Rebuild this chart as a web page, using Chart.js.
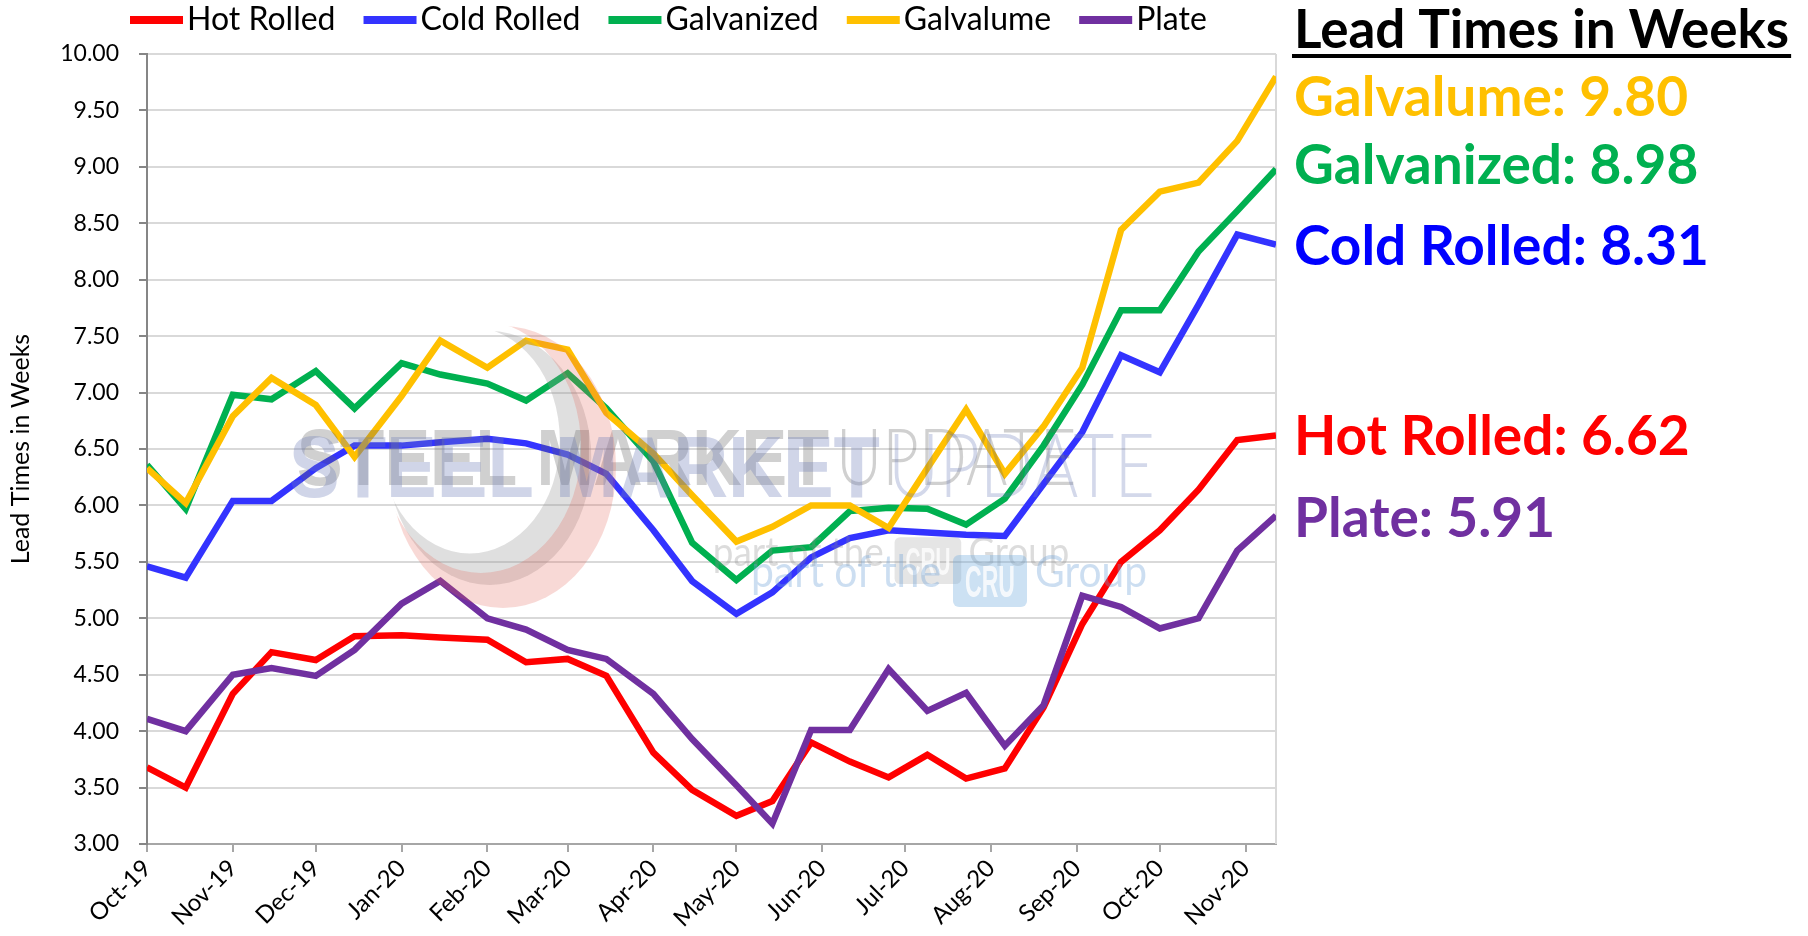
<!DOCTYPE html>
<html>
<head>
<meta charset="utf-8">
<script src="https://cdn.jsdelivr.net/npm/chart.js@4.4.1/dist/chart.umd.min.js"></script>
<style>
  html, body { margin: 0; padding: 0; background: #fff; }
  #wrap { width: 1808px; height: 936px; }
</style>
</head>
<body>
<div id="wrap"><canvas id="lead-chart" width="1808" height="936"></canvas></div>
<script>
// survey dates: twice a month, then every other week from May 2020
const surveyDates = [
  '2019-10-01', '2019-10-15', '2019-11-01', '2019-11-15', '2019-12-01', '2019-12-15',
  '2020-01-01', '2020-01-15', '2020-02-01', '2020-02-15', '2020-03-01', '2020-03-15',
  '2020-04-01', '2020-04-15', '2020-05-01', '2020-05-14', '2020-05-28', '2020-06-11',
  '2020-06-25', '2020-07-09', '2020-07-23', '2020-08-06', '2020-08-20', '2020-09-03',
  '2020-09-17', '2020-10-01', '2020-10-15', '2020-10-29', '2020-11-12'
];

const hotRolled  = [3.68, 3.50, 4.33, 4.70, 4.63, 4.84, 4.85, 4.83, 4.81, 4.61, 4.64, 4.49, 3.81, 3.48, 3.25, 3.38, 3.90, 3.73, 3.59, 3.79, 3.58, 3.67, 4.21, 4.95, 5.50, 5.78, 6.14, 6.58, 6.62];
const coldRolled = [5.46, 5.36, 6.04, 6.04, 6.33, 6.53, 6.53, 6.56, 6.59, 6.55, 6.45, 6.28, 5.78, 5.33, 5.04, 5.23, 5.54, 5.71, 5.78, 5.76, 5.74, 5.73, 6.19, 6.65, 7.33, 7.18, 7.78, 8.40, 8.31];
const galvanized = [6.36, 5.97, 6.98, 6.94, 7.19, 6.86, 7.26, 7.16, 7.08, 6.93, 7.17, 6.86, 6.39, 5.67, 5.34, 5.60, 5.63, 5.95, 5.98, 5.97, 5.83, 6.06, 6.53, 7.07, 7.73, 7.73, 8.25, 8.61, 8.98];
const galvalume  = [6.33, 6.02, 6.79, 7.13, 6.89, 6.43, 6.97, 7.46, 7.22, 7.46, 7.38, 6.82, 6.46, 6.09, 5.68, 5.81, 6.00, 6.00, 5.80, 6.33, 6.85, 6.28, 6.70, 7.22, 8.44, 8.78, 8.86, 9.23, 9.80];
const plate      = [4.11, 4.00, 4.50, 4.56, 4.49, 4.72, 5.13, 5.33, 5.00, 4.90, 4.72, 4.64, 4.33, 3.93, 3.52, 3.18, 4.01, 4.01, 4.55, 4.18, 4.34, 3.87, 4.23, 5.20, 5.10, 4.91, 5.00, 5.60, 5.91];

const seriesNames  = ['Hot Rolled', 'Cold Rolled', 'Galvanized', 'Galvalume', 'Plate'];
const seriesValues = [hotRolled, coldRolled, galvanized, galvalume, plate];
const lineColors   = ['#ff0000', '#3333ff', '#00b050', '#ffc000', '#7030a0'];
const textColors   = ['#ff0000', '#0000ff', '#00b050', '#ffc000', '#7030a0'];

const monthStarts = [
  '2019-10-01', '2019-11-01', '2019-12-01', '2020-01-01', '2020-02-01', '2020-03-01', '2020-04-01',
  '2020-05-01', '2020-06-01', '2020-07-01', '2020-08-01', '2020-09-01', '2020-10-01', '2020-11-01'
];
const monthLabels = ['Oct-19', 'Nov-19', 'Dec-19', 'Jan-20', 'Feb-20', 'Mar-20', 'Apr-20',
                     'May-20', 'Jun-20', 'Jul-20', 'Aug-20', 'Sep-20', 'Oct-20', 'Nov-20'];

// right hand summary, top to bottom
const summaryOrder = ['Galvalume', 'Galvanized', 'Cold Rolled', 'Hot Rolled', 'Plate'];
const summaryBaselines = [116, 184, 265, 455, 537];

const dayZero = Date.UTC(2019, 9, 1);
function dayOf(s) {
  const [y, m, d] = s.split('-').map(Number);
  return (Date.UTC(y, m - 1, d) - dayZero) / 86400000;
}
const surveyDays = surveyDates.map(dayOf);
const monthDays = monthStarts.map(dayOf);

Chart.defaults.font.family = 'Lato';
Chart.defaults.color = '#000';

const datasets = seriesNames.map((name, i) => ({
  label: name,
  data: seriesValues[i].map((v, j) => ({ x: surveyDays[j], y: v })),
  borderColor: lineColors[i],
  backgroundColor: lineColors[i],
  borderWidth: 6.5,
  pointRadius: 0,
  tension: 0,
  order: seriesNames.length - i
}));

// squeeze a string into a given width
function fitText(ctx, text, x, y, width, font) {
  ctx.font = font;
  const w = ctx.measureText(text).width;
  ctx.save();
  ctx.translate(x, y);
  ctx.scale(width / w, 1);
  ctx.fillText(text, 0, 0);
  ctx.restore();
}

function drawLogo(ctx, ox, oy, k, c) {
  ctx.save();
  ctx.translate(ox, oy);
  ctx.scale(k, k);

  // crescent
  ctx.save();
  ctx.beginPath();
  ctx.rect(-400, -400, 2000, 1000);
  ctx.ellipse(192, -50, 100, 126, 0, 0, Math.PI * 2, true);
  ctx.clip('evenodd');
  ctx.beginPath();
  ctx.ellipse(214, -30, 113, 141, 0, 0, Math.PI * 2);
  ctx.fillStyle = c.ring;
  ctx.fill();
  ctx.restore();

  ctx.textBaseline = 'alphabetic';
  ctx.fillStyle = c.heavy;
  fitText(ctx, 'STEEL MARKET', 0, 0, 591, 'bold 88px "Liberation Sans"');
  ctx.fillStyle = c.thin;
  fitText(ctx, 'UPDATE', 599, 0, 267, '300 88px Lato');
  ctx.fillStyle = c.small;
  fitText(ctx, 'part of the', 462, 90, 190, '400 44px Lato');
  fitText(ctx, 'Group', 746, 90, 112, '400 44px Lato');
  ctx.fillStyle = c.box;
  ctx.beginPath();
  ctx.roundRect(664, 58, 74, 52, 6);
  ctx.fill();
  ctx.fillStyle = 'rgba(255,255,255,0.8)';
  fitText(ctx, 'CRU', 676, 100, 50, 'bold 44px "Liberation Sans Narrow", "Liberation Sans"');
  ctx.restore();
}

const watermark = {
  id: 'watermark',
  afterDatasetsDraw(chart) {
    const ctx = chart.ctx;
    drawLogo(ctx, 297, 485, 0.9, {
      ring: 'rgba(150,150,150,0.3)', heavy: 'rgba(100,100,100,0.3)', thin: 'rgba(100,100,100,0.3)',
      small: 'rgba(140,140,140,0.3)', box: 'rgba(150,150,150,0.25)'
    });
    drawLogo(ctx, 289, 497, 1, {
      ring: 'rgba(225,95,85,0.24)', heavy: 'rgba(110,125,185,0.32)', thin: 'rgba(110,125,185,0.3)',
      small: 'rgba(110,160,215,0.35)', box: 'rgba(110,170,220,0.35)'
    });
  }
};

const frame = {
  id: 'frame',
  beforeDatasetsDraw(chart) {
    const { ctx, chartArea: a } = chart;
    ctx.save();
    ctx.strokeStyle = '#d9d9d9';
    ctx.lineWidth = 2;
    ctx.beginPath();
    ctx.moveTo(a.right, a.top);
    ctx.lineTo(a.right, a.bottom);
    ctx.stroke();
    ctx.restore();
  }
};

// series key along the top
const topLegend = {
  id: 'topLegend',
  afterDraw(chart) {
    const ctx = chart.ctx;
    ctx.save();
    ctx.font = '32px Lato';
    ctx.textBaseline = 'middle';
    let x = 130;
    const y = 20;
    chart.data.datasets.forEach(ds => {
      ctx.fillStyle = ds.borderColor;
      ctx.fillRect(x, y - 4, 53, 8);
      ctx.fillStyle = '#000';
      ctx.fillText(ds.label, x + 57, y);
      x += 57 + ctx.measureText(ds.label).width + 28;
    });
    ctx.restore();
  }
};

// latest reading of each series, right of the plot
const summary = {
  id: 'summary',
  afterDraw(chart) {
    const ctx = chart.ctx;
    const x = 1294;
    ctx.save();
    ctx.textBaseline = 'alphabetic';
    ctx.font = 'bold 53px Lato';
    ctx.fillStyle = '#000';
    const title = 'Lead Times in Weeks';
    ctx.fillText(title, x, 48);
    const tw = ctx.measureText(title).width;
    ctx.fillRect(x - 2, 54, tw + 4, 4);
    ctx.font = 'bold 55px Lato';
    summaryOrder.forEach((name, k) => {
      const i = seriesNames.indexOf(name);
      const vals = seriesValues[i];
      ctx.fillStyle = textColors[i];
      ctx.fillText(name + ': ' + vals[vals.length - 1].toFixed(2), x, summaryBaselines[k]);
    });
    ctx.restore();
  }
};

new Chart(document.getElementById('lead-chart'), {
  type: 'line',
  data: { datasets },
  options: {
    responsive: false,
    animation: false,
    devicePixelRatio: 1,
    layout: { padding: { top: 54, right: 532, bottom: 0, left: 0 } },
    plugins: {
      legend: { display: false },
      tooltip: { enabled: false }
    },
    scales: {
      x: {
        type: 'linear',
        min: 0,
        max: surveyDays[surveyDays.length - 1],
        afterBuildTicks: s => { s.ticks = monthDays.map(v => ({ value: v })); },
        afterFit: s => { s.height = 92; },
        ticks: {
          autoSkip: false,
          maxRotation: 45,
          minRotation: 45,
          padding: 2,
          font: { size: 24 },
          callback: (v, i) => monthLabels[i]
        },
        grid: {
          drawOnChartArea: false,
          drawTicks: true,
          tickLength: 8,
          color: '#a6a6a6',
          lineWidth: 2
        },
        border: { display: true, color: '#a6a6a6', width: 2 }
      },
      y: {
        min: 3,
        max: 10,
        afterFit: s => { s.width = 147; },
        ticks: {
          stepSize: 0.5,
          padding: 20,
          font: { size: 23 },
          callback: v => v.toFixed(2)
        },
        grid: { color: '#d9d9d9', lineWidth: 2, tickLength: 8, tickColor: '#868686' },
        border: { display: true, color: '#868686', width: 2 },
        title: {
          display: true,
          text: 'Lead Times in Weeks',
          font: { size: 25 },
          padding: { top: 6, bottom: 0 }
        }
      }
    }
  },
  plugins: [frame, watermark, topLegend, summary]
});
</script>
</body>
</html>
